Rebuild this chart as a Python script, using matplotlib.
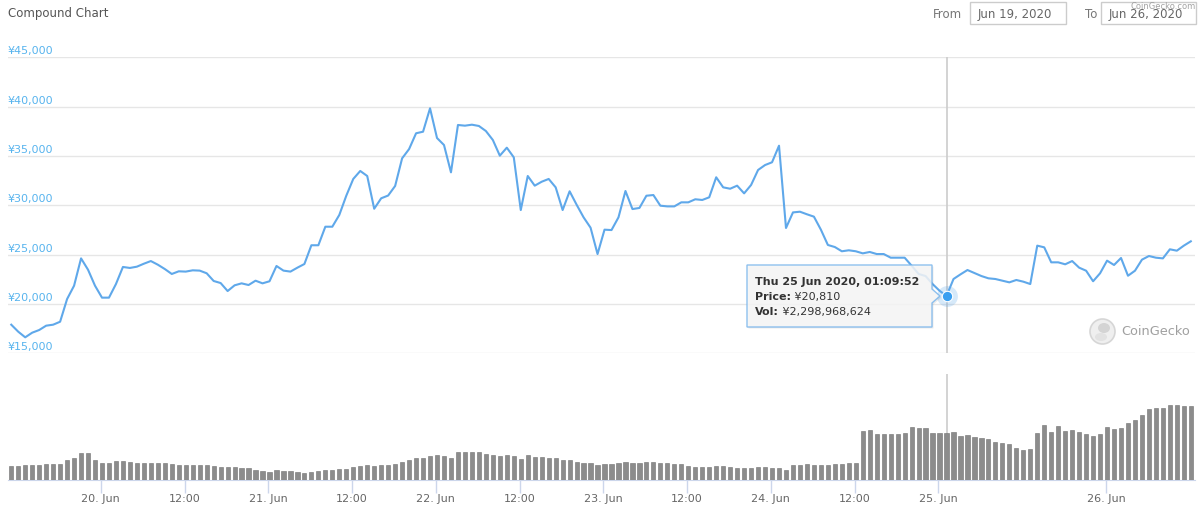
import numpy as np
import pandas as pd
import matplotlib
matplotlib.use("Agg")
import matplotlib.pyplot as plt
from matplotlib.patches import Polygon, Rectangle, Ellipse

W, H = 1200, 506

# hourly price (JPY)
price = [
    17900, 17190, 16620, 17090, 17360, 17800, 17900, 18200, 20500, 21850,
    24620, 23470, 21850, 20640, 20640, 22020, 23750, 23650, 23780, 24080,
    24350, 23980, 23540, 23040, 23310, 23280, 23410, 23380, 23110, 22330,
    22120, 21310, 21890, 22090, 21920, 22360, 22090, 22300, 23850, 23380,
    23280, 23680, 24050, 25950, 25950, 27830, 27830, 29020, 30970, 32670,
    33480, 32970, 29650, 30710, 30990, 31960,
    34760, 35700, 37300, 37460, 39830, 36820, 36110, 33340, 38140, 38070,
    38170, 38040, 37530, 36620, 35030, 35840, 34860, 29520, 32970, 31990,
    32390, 32670, 31820, 29520, 31420, 30060, 28780, 27730, 25060, 27530,
    27490, 28780, 31450, 29620, 29730, 30970, 31040, 29960, 29890, 29890,
    30300, 30300, 30610, 30540, 30810, 32840, 31820, 31680, 31990, 31210,
    32060, 33580, 34080, 34360, 36040, 27700, 29280,
    29350, 29090, 28850, 27530, 25980, 25770, 25340, 25440, 25340, 25130,
    25270, 25060, 25060, 24690, 24690, 24690, 23880, 23040, 22830, 22020,
    21340, 20810, 22530, 23000, 23440, 23140, 22830, 22600, 22530, 22360,
    22190, 22430, 22260, 22020, 25910, 25740, 24220, 24220, 24020, 24350,
    23680, 23370, 22300, 23110, 24390, 23950, 24660, 22860, 23370, 24490,
    24860, 24690, 24620, 25540, 25400, 25910, 26350,
]

# hourly volume, millions of JPY
volume = [
    699, 699, 734, 748, 748, 797, 797, 797,
    993, 1090, 1306, 1306, 993, 846, 846, 914,
    944, 895, 846, 817, 817, 817, 817, 797,
    748, 748, 719, 719, 719, 699, 650, 650,
    650, 601, 572, 504, 455, 406, 474, 455,
    425, 377, 357, 406, 455, 474, 504, 523,
    553, 636, 699, 734, 699, 748, 748, 797,
    895, 993, 1090, 1090, 1188, 1237, 1188, 1090,
    1355, 1355, 1355, 1355, 1286, 1237, 1188, 1237,
    1188, 1042, 1237, 1139, 1139, 1090, 1090, 993,
    993, 895, 846, 846, 748, 797, 797, 846,
    895, 846, 846, 895, 895, 846, 846, 797,
    797, 699, 650, 650, 650, 699, 699, 650,
    601, 601, 601, 650, 650, 601, 601, 504,
    748, 748, 797, 748, 748, 748, 797, 797,
    846, 846, 2396, 2445, 2249, 2249, 2249, 2249,
    2298, 2592, 2543, 2543, 2298, 2298, 2298, 2347,
    2137, 2200, 2088, 2039, 1990, 1844, 1795, 1746,
    1550, 1452, 1501, 2298, 2704, 2347, 2641, 2396,
    2445, 2347, 2249, 2152, 2249, 2592, 2494, 2543,
    2787, 2934, 3179, 3472, 3521, 3521, 3682, 3682,
    3633, 3633,
]

times = pd.date_range("2020-06-19 11:09:52", periods=len(price), freq="h")

tick_times = pd.to_datetime([
    "2020-06-20 00:00", "2020-06-20 12:00", "2020-06-21 00:00", "2020-06-21 12:00",
    "2020-06-22 00:00", "2020-06-22 12:00", "2020-06-23 00:00", "2020-06-23 12:00",
    "2020-06-24 00:00", "2020-06-24 12:00", "2020-06-25 00:00", "2020-06-26 00:00",
])
tick_labels = ["20. Jun", "12:00", "21. Jun", "12:00", "22. Jun", "12:00",
               "23. Jun", "12:00", "24. Jun", "12:00", "25. Jun", "26. Jun"]

y_ticks = [15000, 20000, 25000, 30000, 35000, 40000, 45000]

hover = 134
tooltip_lines = ["Thu 25 Jun 2020, 01:09:52", ("Price:", " ¥20,810"), ("Vol:", " ¥2,298,968,624")]

line_color = "#5fa8ea"
label_blue = "#58b4ee"
grey_text = "#666666"


def P(x, y):
    return (x / W, 1 - y / H)


fig = plt.figure(figsize=(W / 100, H / 100), dpi=100)
fig.patch.set_facecolor("white")

left, right = 8, 1195
ax = fig.add_axes([left / W, 1 - 354.3 / H, (right - left) / W, (354.3 - 58.3) / H])
axv = fig.add_axes([left / W, 1 - 481 / H, (right - left) / W, 106 / H], sharex=ax)

# price pane
ax.plot(times, price, color=line_color, lw=1.5, zorder=3)
ax.set_ylim(15000, 45000)
ax.set_yticks(y_ticks)
ax.yaxis.grid(True, color="#e6e6e6", lw=1)
ax.tick_params(axis="both", length=0, labelleft=False, labelbottom=False)
for s in ax.spines.values():
    s.set_visible(False)
for v in y_ticks:
    ax.annotate("¥{:,}".format(v), xy=(0, v), xycoords=("axes fraction", "data"),
                xytext=(0, 1.5), textcoords="offset points",
                ha="left", va="bottom", fontsize=8, color=label_blue)

x0 = times[0] - pd.Timedelta(minutes=28)
x1 = times[0] + pd.Timedelta(minutes=int(169.6 * 60))
ax.set_xlim(x0, x1)

# crosshair and hovered point
ax.axvline(times[hover], color="#cccccc", lw=1.2, zorder=2)
ax.plot(times[hover], price[hover], "o", ms=15, color=line_color, alpha=0.25, mec="none", zorder=4)
ax.plot(times[hover], price[hover], "o", ms=7.5, color="#3a9ff0", mec="white", mew=0.8, zorder=5)

# volume pane
bar_w = 0.6 / 24
axv.bar(times, volume, width=bar_w, color="#8c8c8c", edgecolor="#6f6f6f", lw=0.4, zorder=3)
axv.set_ylim(0, 106 * 48.9)
axv.axvline(times[hover], color="#cccccc", lw=1.2, zorder=2)
for k, s in axv.spines.items():
    s.set_visible(k == "bottom")
axv.spines["bottom"].set_color("#ccd6eb")
axv.set_yticks([])
axv.set_xticks(tick_times)
axv.set_xticklabels(tick_labels)
axv.tick_params(axis="x", length=9, width=1, color="#ccd6eb", labelsize=8,
                labelcolor=grey_text, pad=0.5)

# header
fig.text(*P(8, 14), "Compound Chart", fontsize=8.5, color="#555555", va="center", ha="left")
fig.text(*P(933, 14), "From", fontsize=8.5, color="#777777", va="center", ha="left")
fig.text(*P(1085, 14), "To", fontsize=8.5, color="#777777", va="center", ha="left")
for bx0, bx1, txt in [(970, 1066, "Jun 19, 2020"), (1101, 1196, "Jun 26, 2020")]:
    fig.patches.append(Rectangle(P(bx0, 25), (bx1 - bx0) / W, 21.7 / H, transform=fig.transFigure,
                                 facecolor="white", edgecolor="#cccccc", lw=1))
    fig.text(*P(bx0 + 8, 14.5), txt, fontsize=8.5, color=grey_text, va="center", ha="left")
fig.text(*P(1196, 6.5), "CoinGecko.com", fontsize=6, color="#999999", alpha=0.9, va="center", ha="right")

# watermark
fig.patches.append(Ellipse(P(1102.5, 332.5), 25 / W, 25 / H, transform=fig.transFigure,
                           facecolor="#efefef", edgecolor="#d6d6d6", lw=1.2))
fig.patches.append(Ellipse(P(1104, 329), 12 / W, 10 / H, transform=fig.transFigure,
                           facecolor="#d4d4d4", edgecolor="none"))
fig.patches.append(Ellipse(P(1101, 338), 12 / W, 8 / H, transform=fig.transFigure,
                           facecolor="#e2e2e2", edgecolor="none"))
fig.text(*P(1121, 332), "CoinGecko", fontsize=9.3, color="#a0a0a0", va="center", ha="left")

# tooltip
bx0, bx1, by0, by1 = 747, 932, 266, 328
tip = (940, 297)
shape = [(bx0, by0), (bx1, by0), (bx1, 290), tip, (bx1, 304), (bx1, by1), (bx0, by1)]
shadow = [(x + 1.5, y + 1.5) for x, y in shape]
fig.patches.append(Polygon([P(*p) for p in shadow], closed=True, transform=fig.transFigure,
                           facecolor="black", alpha=0.08, edgecolor="none", zorder=9))
fig.patches.append(Polygon([P(*p) for p in shape], closed=True, transform=fig.transFigure,
                           facecolor="#f7f7f7", alpha=0.85, edgecolor="#7ab6ec", lw=1, zorder=10))

fig.canvas.draw()
renderer = fig.canvas.get_renderer()
tx = 755
fig.text(*P(tx, 282), tooltip_lines[0], fontsize=8, fontweight="bold", color="#333333",
         va="center", ha="left", zorder=11)
for row, (lab, val) in zip([297, 312], tooltip_lines[1:]):
    t = fig.text(*P(tx, row), lab, fontsize=8, fontweight="bold", color="#333333",
                 va="center", ha="left", zorder=11)
    bb = t.get_window_extent(renderer=renderer)
    fig.text(bb.x1 / W, 1 - row / H, val, fontsize=8, color="#333333",
             va="center", ha="left", zorder=11)

fig.savefig("out.png", dpi=100)
